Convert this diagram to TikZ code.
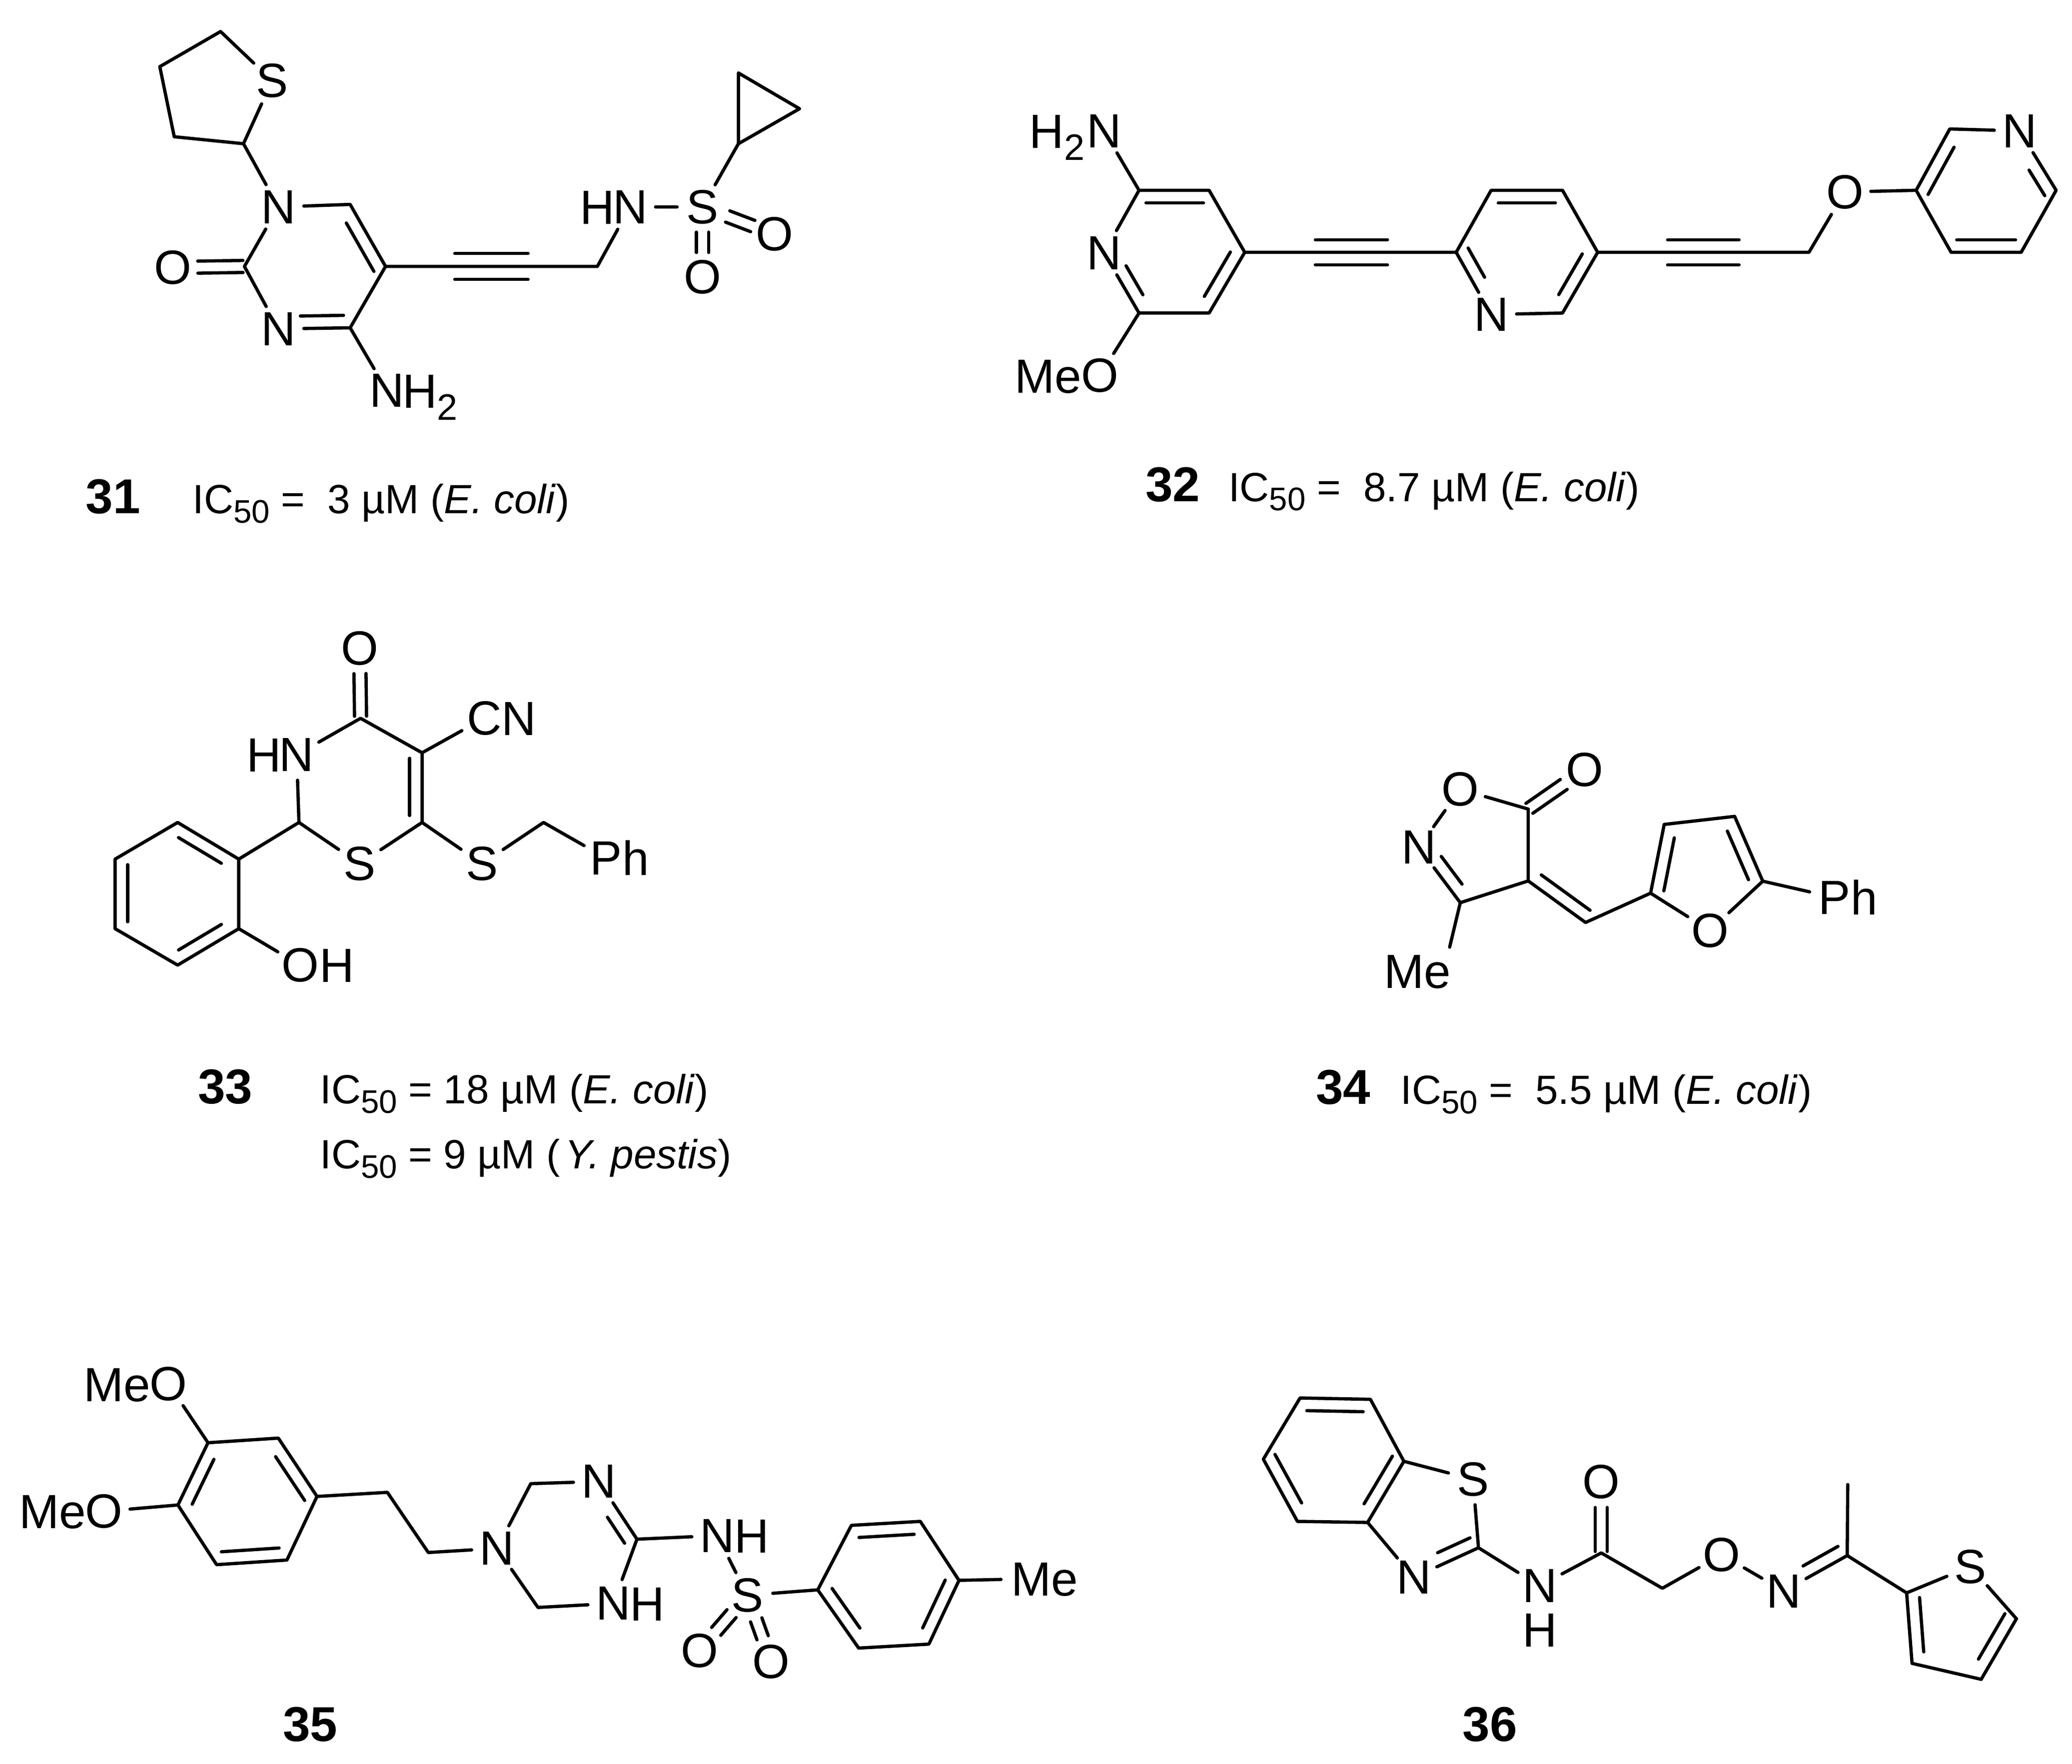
\documentclass[tikz,border=0pt]{standalone}
\usepackage{fontspec}
\setmainfont{Liberation Sans}
\usepackage{tikz}
\usetikzlibrary{calc}

\newcommand{\subnum}[1]{\raisebox{-2.6pt}{\fontsize{7.9}{8}\selectfont #1}}
\newcommand{\subcap}[1]{\raisebox{-2pt}{\fontsize{7}{8}\selectfont #1}}
\newcommand{\icfifty}{IC\subcap{50}}
\def\innergap{2.7pt}

\tikzset{
    bond/.style={line width=0.7pt, line cap=round, line join=round},
    atom/.style={circle, inner sep=0pt, minimum size=0.37cm, font=\fontsize{10.3}{12}\selectfont},
    tailW/.style 2 args={anchor=base west, inner sep=0pt, font=\fontsize{10.3}{12}\selectfont, xshift=#1*0.01cm, yshift=-#2*0.01cm},
    tailE/.style 2 args={anchor=base east, inner sep=0pt, font=\fontsize{10.3}{12}\selectfont, xshift=-#1*0.01cm, yshift=-#2*0.01cm},
    group/.style={anchor=base west, inner sep=0pt, font=\fontsize{10.3}{12}\selectfont},
    compound/.style={anchor=base west, inner sep=0pt, font=\fontsize{10.5}{12}\selectfont\bfseries},
    caption/.style={anchor=base west, inner sep=0pt, font=\fontsize{8.75}{11}\selectfont},
    panel/.style 2 args={shift={(#1,#2)}, xscale=.995, yscale=.995}
}

% line beside the bond a-b, between two fractions of its length
\newcommand{\offbond}[5]{\draw[bond] ($(#1)!#3!(#2)!#5!90:(#2)$) -- ($(#1)!#4!(#2)!#5!90:(#2)$);}
\newcommand{\inbond}[5]{\offbond{#1}{#2}{#3}{#4}{#5\innergap}}
\newcommand{\twobond}[4]{\offbond{#1}{#2}{#3}{#4}{1.3pt}\offbond{#1}{#2}{#3}{#4}{-1.3pt}}

\begin{document}
\begin{tikzpicture}[x=0.01cm, y=-0.01cm]
    \useasboundingbox (0,0) rectangle (1562,1329.9);

    % 31
    \begin{scope}[panel={0.4}{0}]
    \coordinate (a31) at (166.7,23.9);
    \coordinate (b31) at (120.7,50.5);
    \coordinate (c31) at (131.6,103.6);
    \coordinate (d31) at (184.1,108.9);
    \node[atom] (s31) at (205.8,61.1) {S};
    \node[atom] (n31a) at (210.5,156.8) {N};
    \coordinate (e31) at (264.9,154.9);
    \coordinate (f31) at (291.7,201.9);
    \coordinate (g31) at (264.9,248.4);
    \node[atom] (n31b) at (210.5,249.2) {N};
    \coordinate (h31) at (184.8,201.9);
    \node[atom] (o31a) at (130.5,202.7) {O};
    \node[atom] (n31c) at (292.8,296) {N};
    \node[tailW={11}{13}] (h31c) at (n31c.center) {H\subnum{2}};
    \coordinate (i31) at (452.2,201.9);
    \node[atom] (n31d) at (477,156.8) {N};
    \node[tailE={11}{13}] (h31d) at (n31d.center) {H};
    \node[atom] (s31b) at (531.9,156.8) {S};
    \node[atom] (o31b) at (586.3,177.5) {O};
    \node[atom] (o31c) at (531.9,209.9) {O};
    \coordinate (j31) at (559.1,55.3);
    \coordinate (k31) at (605.4,82.4);
    \coordinate (l31) at (559.1,108.9);
    \draw[bond] (s31) -- (a31) -- (b31) -- (c31) -- (d31) -- (s31);
    \draw[bond] (d31) -- (n31a) -- (e31) -- (f31) -- (g31) -- (n31b) -- (h31) -- (n31a);
    \draw[bond] (g31) -- (n31c);
    \draw[bond] (f31) -- (i31) -- (n31d) -- (s31b) -- (l31);
    \draw[bond] (l31) -- (j31) -- (k31) -- (l31);
    \inbond{e31}{f31}{.2}{.98}{-}
    \inbond{n31b}{g31}{.31}{.91}{+}
    \twobond{h31}{o31a}{.02}{.65}
    \twobond{s31b}{o31b}{.35}{.7}
    \twobond{s31b}{o31c}{.36}{.65}
    \offbond{f31}{i31}{.327}{.673}{2.8pt}
    \offbond{f31}{i31}{.327}{.673}{-2.8pt}
    \node[compound] (num31) at (64,389) {31};
    \node[caption] (cap31) at (144.8,389) {\icfifty{} =~~3 µM (\textit{E. coli})};
    \end{scope}

    % 32
    \begin{scope}[panel={3.7}{0.3}]
    \node[atom] (n32a) at (832.8,98.9) {N};
    \node[tailE={14}{13}] (h32a) at (n32a.center) {H\subnum{2}};
    \coordinate (a32) at (859.3,143.9);
    \coordinate (b32) at (912.4,143.9);
    \coordinate (c32) at (939.4,190.9);
    \coordinate (d32) at (912.4,236.9);
    \coordinate (e32) at (859.3,236.9);
    \node[atom] (n32b) at (832.8,191.3) {N};
    \node[atom] (o32a) at (829.6,284.3) {O};
    \node[tailE={13}{13}] (me32) at (o32a.center) {Me};
    \coordinate (f32) at (1099.6,190.9);
    \coordinate (g32) at (1126.1,143.9);
    \coordinate (h32) at (1180.2,143.9);
    \coordinate (i32) at (1206.8,190.9);
    \coordinate (j32) at (1180.2,236.9);
    \node[atom] (n32c) at (1126.1,238) {N};
    \coordinate (k32) at (1366.9,190.9);
    \node[atom] (o32b) at (1394,145.2) {O};
    \coordinate (l32) at (1448.1,143.9);
    \coordinate (m32) at (1473.6,97.4);
    \node[atom] (n32d) at (1526.6,98.9) {N};
    \coordinate (p32) at (1554.2,143.9);
    \coordinate (q32) at (1527.7,190.9);
    \coordinate (r32) at (1474.6,190.9);
    \draw[bond] (n32a) -- (a32) -- (b32) -- (c32) -- (d32) -- (e32) -- (n32b) -- (a32);
    \draw[bond] (e32) -- (o32a);
    \draw[bond] (c32) -- (f32) -- (g32) -- (h32) -- (i32) -- (j32) -- (n32c) -- (f32);
    \draw[bond] (i32) -- (k32) -- (o32b) -- (l32) -- (m32) -- (n32d) -- (p32) -- (q32) -- (r32) -- (l32);
    \inbond{a32}{b32}{.1}{.92}{-}
    \inbond{n32b}{e32}{.32}{.8}{+}
    \inbond{c32}{d32}{.1}{.83}{-}
    \inbond{f32}{n32c}{.03}{.5}{+}
    \inbond{g32}{h32}{.1}{.9}{-}
    \inbond{i32}{j32}{.13}{.8}{-}
    \inbond{l32}{m32}{.03}{.8}{-}
    \inbond{n32d}{p32}{.55}{.98}{-}
    \inbond{q32}{r32}{.08}{.92}{-}
    \offbond{c32}{f32}{.334}{.675}{2.7pt}
    \offbond{c32}{f32}{.334}{.675}{-2.7pt}
    \offbond{i32}{k32}{.331}{.669}{2.7pt}
    \offbond{i32}{k32}{.331}{.669}{-2.7pt}
    \node[compound] (num32) at (863.6,379.5) {32};
    \node[caption] (cap32) at (926.3,379.5) {\icfifty{} =~~8.7 µM (\textit{E. coli})};
    \end{scope}

    % 33
    \begin{scope}[panel={0.3}{2.3}]
    \node[atom] (o33a) at (272.2,489) {O};
    \coordinate (a33) at (272.9,542);
    \coordinate (b33) at (319.5,568.1);
    \coordinate (c33) at (319.5,620.9);
    \node[atom] (s33a) at (272.2,652.2) {S};
    \coordinate (d33) at (226.2,620.9);
    \node[atom] (n33a) at (224.5,569.6) {N};
    \node[tailE={11}{13}] (h33a) at (n33a.center) {H};
    \node[atom] (c33n) at (366.5,542) {C};
    \node[tailW={12.5}{13}] (n33b) at (c33n.center) {N};
    \coordinate (e33) at (180.6,648.7);
    \coordinate (f33) at (134.3,620.9);
    \coordinate (g33) at (86.9,648.7);
    \coordinate (h33) at (86.9,701.4);
    \coordinate (i33) at (134.3,729);
    \coordinate (j33) at (180.6,701.4);
    \node[atom] (o33b) at (227.2,729) {O};
    \node[tailW={14}{13}] (h33b) at (o33b.center) {H};
    \node[atom] (s33b) at (364.9,652.2) {S};
    \coordinate (k33) at (411.5,620.9);
    \node[atom] (p33) at (459,648) {P};
    \node[tailW={11.5}{13}] (ph33) at (p33.center) {h};
    \draw[bond] (n33a) -- (a33) -- (b33) -- (c33) -- (s33a) -- (d33) -- (n33a);
    \draw[bond] (b33) -- (c33n);
    \draw[bond] (d33) -- (e33) -- (f33) -- (g33) -- (h33) -- (i33) -- (j33) -- (e33);
    \draw[bond] (j33) -- (o33b);
    \draw[bond] (c33) -- (s33b) -- (k33) -- (p33);
    \twobond{a33}{o33a}{.03}{.64}
    \inbond{b33}{c33}{.08}{.9}{-}
    \inbond{f33}{e33}{.12}{.82}{-}
    \inbond{g33}{h33}{.08}{.9}{+}
    \inbond{i33}{j33}{.12}{.82}{+}
    \node[compound] (num33) at (149,834) {33};
    \node[caption] (cap33a) at (241.5,834) {\icfifty{} = 18 µM (\textit{E. coli})};
    \node[caption] (cap33b) at (241.5,883.2) {\icfifty{} = 9 µM (\kern1pt\textit{Y. pestis})};
    \end{scope}

    % 34
    \begin{scope}[panel={4.9}{2.6}]
    \node[atom] (o34a) at (1101.5,595.5) {O};
    \node[atom] (n34) at (1070.1,639.5) {N};
    \coordinate (a34) at (1101.5,681.4);
    \coordinate (b34) at (1153,664.9);
    \coordinate (c34) at (1153,610.5);
    \node[atom] (o34b) at (1195.7,580.8) {O};
    \coordinate (d34) at (1196.4,696.4);
    \coordinate (e34) at (1245.7,674.2);
    \coordinate (f34) at (1256,622.1);
    \coordinate (g34) at (1309.4,616);
    \coordinate (h34) at (1330.7,665.1);
    \node[atom] (o34c) at (1290.6,702.5) {O};
    \node[atom] (p34) at (1385,677.5) {P};
    \node[tailW={11.5}{13}] (ph34) at (p34.center) {h};
    \node[group] (me34) at (1043,746) {Me};
    \draw[bond] (o34a) -- (n34) -- (a34) -- (b34) -- (c34) -- (o34a);
    \draw[bond, shorten >=1.5pt] (a34) -- (me34.30);
    \draw[bond] (b34) -- (d34) -- (e34) -- (f34) -- (g34) -- (h34) -- (o34c) -- (e34);
    \draw[bond] (h34) -- (p34);
    \inbond{n34}{a34}{.3}{.8}{+}
    \inbond{b34}{d34}{.1}{.95}{+}
    \inbond{e34}{f34}{.07}{.84}{-}
    \inbond{g34}{h34}{.15}{.9}{-}
    \twobond{c34}{o34b}{.02}{.63}
    \node[compound] (num34) at (991.5,834) {34};
    \node[caption] (cap34) at (1055.5,834) {\icfifty{} =~~5.5 µM (\textit{E. coli})};
    \end{scope}

    % 35
    \begin{scope}[panel={0}{5}]
    \node[atom] (o35a) at (127.7,1043.7) {O};
    \node[tailE={13}{13}] (me35a) at (o35a.center) {Me};
    \node[atom] (o35b) at (78.8,1140.2) {O};
    \node[tailE={13}{13}] (me35b) at (o35b.center) {Me};
    \coordinate (a35) at (157.6,1088.2);
    \coordinate (b35) at (210.9,1084.7);
    \coordinate (c35) at (240.2,1128.9);
    \coordinate (d35) at (217.4,1177.1);
    \coordinate (e35) at (164.1,1180.6);
    \coordinate (f35) at (134.8,1135.4);
    \coordinate (g35) at (293.5,1125.8);
    \coordinate (h35) at (324.5,1171.4);
    \node[atom] (n35a) at (376.6,1168.3) {N};
    \coordinate (i35) at (402.2,1119.2);
    \node[atom] (n35b) at (453.8,1117.6) {N};
    \coordinate (j35) at (482.6,1161.3);
    \node[atom] (n35c) at (464.7,1210) {N};
    \node[tailW={12}{13}] (h35c) at (n35c.center) {H};
    \coordinate (k35) at (407.6,1213);
    \node[atom] (n35d) at (543.5,1158.6) {N};
    \node[tailW={12}{13}] (h35d) at (n35d.center) {H};
    \node[atom] (s35) at (566.3,1203.8) {S};
    \node[atom] (o35c) at (529.9,1245.9) {O};
    \node[atom] (o35d) at (584.3,1254.1) {O};
    \coordinate (l35) at (619.6,1199.7);
    \coordinate (m35) at (645.1,1150.8);
    \coordinate (p35) at (697.3,1147.8);
    \coordinate (q35) at (726.6,1192.5);
    \coordinate (r35) at (703.8,1240.8);
    \coordinate (t35) at (650.6,1243.8);
    \node[group] (me35c) at (765.5,1204) {Me};
    \draw[bond] (o35a) -- (a35) -- (b35) -- (c35) -- (d35) -- (e35) -- (f35) -- (a35);
    \draw[bond] (f35) -- (o35b);
    \draw[bond] (c35) -- (g35) -- (h35) -- (n35a) -- (i35) -- (n35b) -- (j35) -- (n35c) -- (k35) -- (n35a);
    \draw[bond] (j35) -- (n35d) -- (s35) -- (l35) -- (m35) -- (p35) -- (q35) -- (r35) -- (t35) -- (l35);
    \draw[bond, shorten >=2pt] (q35) -- (me35c.west);
    \inbond{a35}{f35}{.18}{.9}{+}
    \inbond{b35}{c35}{.2}{.95}{-}
    \inbond{d35}{e35}{.1}{.92}{-}
    \inbond{n35b}{j35}{.5}{.95}{-}
    \inbond{m35}{p35}{.1}{.9}{-}
    \inbond{q35}{r35}{.08}{.83}{-}
    \inbond{t35}{l35}{.22}{.9}{-}
    \twobond{s35}{o35c}{.33}{.65}
    \twobond{s35}{o35d}{.37}{.64}
    \node[compound] (num35) at (213.7,1314.5) {35};
    \end{scope}

    % 36
    \begin{scope}[panel={4.6}{5.1}]
    \coordinate (a36) at (980.4,1054.2);
    \coordinate (b36) at (1033.7,1055.2);
    \coordinate (c36) at (1059.1,1102.2);
    \coordinate (d36) at (1031.6,1148.5);
    \coordinate (e36) at (978.4,1147.7);
    \coordinate (f36) at (952.6,1100.6);
    \node[atom] (s36a) at (1111.5,1115.9) {S};
    \coordinate (g36) at (1115.6,1167.7);
    \node[atom] (n36a) at (1066.5,1190.2) {N};
    \node[atom] (n36b) at (1161.9,1196.6) {N};
    \node[atom] (h36) at (1161.9,1230.3) {H};
    \coordinate (i36) at (1208.6,1171.6);
    \node[atom] (o36a) at (1208.6,1117.8) {O};
    \coordinate (j36) at (1254.9,1198.4);
    \node[atom] (o36b) at (1299.9,1173) {O};
    \node[atom] (n36c) at (1347,1200.5) {N};
    \coordinate (k36) at (1395,1173.6);
    \coordinate (l36) at (1395.4,1119.8);
    \coordinate (m36) at (1440,1201.9);
    \node[atom] (s36b) at (1488.3,1182) {S};
    \coordinate (p36) at (1523.2,1221.5);
    \coordinate (q36) at (1496.5,1267.4);
    \coordinate (r36) at (1444.1,1255.3);
    \draw[bond] (c36) -- (b36) -- (a36) -- (f36) -- (e36) -- (d36) -- (c36) -- (s36a) -- (g36) -- (n36a) -- (d36);
    \draw[bond] (g36) -- (n36b) -- (i36) -- (j36) -- (o36b) -- (n36c) -- (k36) -- (m36) -- (s36b) -- (p36) -- (q36) -- (r36) -- (m36);
    \draw[bond] (k36) -- (l36);
    \inbond{a36}{b36}{.1}{.9}{-}
    \inbond{c36}{d36}{.02}{.8}{-}
    \inbond{f36}{e36}{.02}{.8}{+}
    \inbond{g36}{n36a}{.05}{.55}{-}
    \inbond{k36}{n36c}{.05}{.6}{-}
    \inbond{m36}{r36}{.08}{.85}{+}
    \inbond{p36}{q36}{.02}{.77}{-}
    \twobond{i36}{o36a}{.02}{.64}
    \node[compound] (num36) at (1102.8,1314.3) {36};
    \end{scope}
\end{tikzpicture}
\end{document}
